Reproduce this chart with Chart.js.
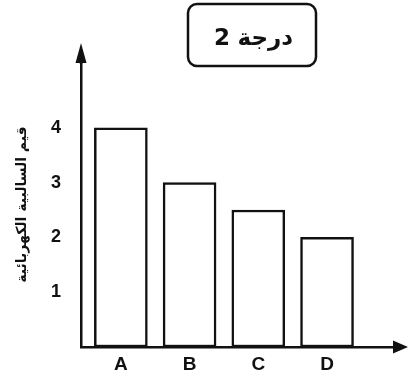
<!DOCTYPE html>
<html>
<head>
<meta charset="utf-8">
<script src="https://cdn.jsdelivr.net/npm/chart.js@4.4.0/dist/chart.umd.min.js"></script>
<style>
    html, body { margin: 0; padding: 0; background: #fff; }
    #wrap { width: 411px; height: 378px; }
</style>
</head>
<body>
<div id="wrap"><canvas id="elecChart" width="411" height="378"></canvas></div>
<script>
// data
const categories = ['A', 'B', 'C', 'D'];
const values = [4, 3, 2.5, 2];
const yTicks = [1, 2, 3, 4];
const yTitle = 'قيم السالبية الكهربائية';
const boxNumber = '2';
const boxWord = 'درجة';

// arrows on the axes + the rounded label box at the top
const sketchPlugin = {
    id: 'sketch',
    afterDraw(chart) {
        const ctx = chart.ctx;
        const a = chart.chartArea;
        ctx.save();
        ctx.fillStyle = '#111';
        ctx.strokeStyle = '#111';
        ctx.lineWidth = 2.5;

        // y arrow
        ctx.beginPath();
        ctx.moveTo(a.left, a.top + 2);
        ctx.lineTo(a.left, a.top - 4);
        ctx.stroke();
        ctx.beginPath();
        ctx.moveTo(a.left, a.top - 19);
        ctx.lineTo(a.left - 5.5, a.top + 1);
        ctx.lineTo(a.left + 5.5, a.top + 1);
        ctx.closePath();
        ctx.fill();

        // x arrow
        ctx.beginPath();
        ctx.moveTo(a.right - 1, a.bottom);
        ctx.lineTo(a.right + 15, a.bottom);
        ctx.lineTo(a.right, a.bottom - 6.5);
        ctx.lineTo(a.right, a.bottom + 6.5);
        ctx.lineTo(a.right + 15, a.bottom);
        ctx.closePath();
        ctx.fill();

        // label box ("2" on the left, the word on the right, as in the scan)
        ctx.beginPath();
        ctx.roundRect(188, 4, 128, 62, 9);
        ctx.stroke();
        ctx.font = 'bold 23px "DejaVu Sans"';
        ctx.textBaseline = 'middle';
        ctx.textAlign = 'left';
        ctx.fillText(boxNumber, 214, 39);
        ctx.textAlign = 'right';
        ctx.fillText(boxWord, 293, 39);
        ctx.restore();
    }
};

new Chart(document.getElementById('elecChart'), {
    type: 'bar',
    data: {
        datasets: [{
            data: values.map((v, i) => ({ x: i, y: v })),
            backgroundColor: '#fff',
            borderColor: '#111',
            borderWidth: 2.5,
            borderSkipped: false,
            barThickness: 53
        }]
    },
    options: {
        responsive: false,
        animation: false,
        layout: { padding: { top: 62, right: 18, left: 0, bottom: 0 } },
        plugins: {
            legend: { display: false },
            tooltip: { enabled: false }
        },
        scales: {
            x: {
                type: 'linear',
                offset: false,
                min: -0.58,
                max: 3.96,
                grid: { display: false, drawTicks: false, offset: false },
                border: { display: true, color: '#111', width: 2.5 },
                afterBuildTicks: s => { s.ticks = categories.map((c, i) => ({ value: i })); },
                afterFit: s => { s.height = 31; },
                ticks: {
                    padding: 6,
                    color: '#111',
                    font: { family: '"Liberation Sans", Arial', size: 19, weight: 'bold' },
                    callback: v => categories[v]
                }
            },
            y: {
                min: 0,
                max: 5.2,
                grid: { display: false, drawTicks: false },
                border: { display: true, color: '#111', width: 2.5 },
                afterBuildTicks: s => { s.ticks = yTicks.map(v => ({ value: v })); },
                afterFit: s => { s.width = 81; },
                ticks: {
                    padding: 20,
                    color: '#111',
                    font: { family: '"Liberation Sans", Arial', size: 18, weight: 'bold' }
                },
                title: {
                    display: true,
                    text: yTitle,
                    color: '#111',
                    padding: { top: 14, bottom: 0 },
                    font: { family: '"DejaVu Sans"', size: 14, weight: 'bold' }
                }
            }
        }
    },
    plugins: [sketchPlugin]
});
</script>
</body>
</html>
